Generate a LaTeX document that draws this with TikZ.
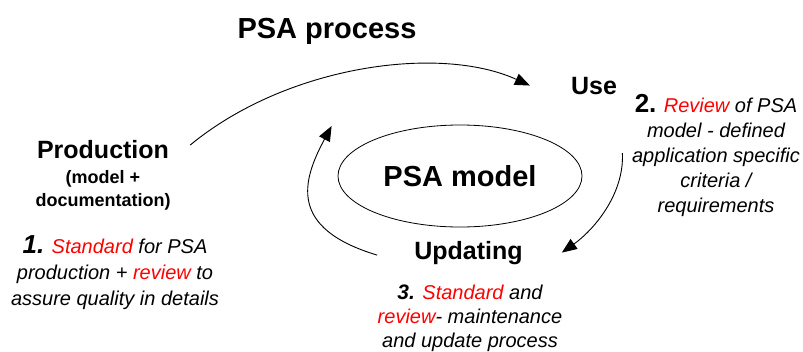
\documentclass[tikz,border=0pt]{standalone}
\usepackage{fontspec}
\setmainfont{Liberation Sans}
\usetikzlibrary{arrows.meta,calc,shapes.geometric}
\definecolor{keyred}{RGB}{255,0,0}
\newcommand{\redword}[1]{\textcolor{keyred}{#1}}
\newcommand{\bignum}[2]{{\fontsize{#1}{#1}\selectfont\bfseries #2}}

\begin{document}
\begin{tikzpicture}[x=1pt,y=-1pt,
  heading/.style={font=\fontsize{29}{34}\selectfont\bfseries, inner sep=0pt},
  stage/.style={font=\fontsize{25}{30}\selectfont\bfseries, inner sep=0pt},
  subnote/.style={font=\fontsize{18}{23}\selectfont\bfseries, align=center, inner sep=0pt},
  note/.style={align=center, inner sep=0pt},
  core/.style={draw, ellipse, line width=0.8pt, minimum width=244pt, minimum height=102pt,
    inner sep=0pt, font=\fontsize{29}{34}\selectfont\bfseries},
  flow/.style={line width=0.9pt, -{Triangle[length=15pt,width=12pt]}},
]
\useasboundingbox (0,0) rectangle (803,351);

% titles and stages (multi-line nodes are placed by the baseline of their last line)
\node[heading, anchor=base] (title) at (327,38) {PSA process};
\node[stage, anchor=base] (use) at (594,94) {Use};
\node[stage, anchor=base] (prod) at (103,158) {Production};
\node[subnote, anchor=base] (prodsub) at (103,206) {(model +\\documentation)};
\node[stage, anchor=base] (upd) at (468.5,259) {Updating};
\node[core] (model) at (460,176) {PSA model};

% explanatory notes
\node[note, anchor=base, font=\fontsize{20}{26}\selectfont\itshape] (n1) at (115,305)
  {\bignum{26}{1.} \redword{Standard} for PSA\\
   production + \redword{review} to\\
   assure quality in details};
\node[note, anchor=base, font=\fontsize{20}{24.8}\selectfont\itshape] (n2) at (716,212)
  {{\fontsize{26}{26}\selectfont\bfseries\upshape 2.} \redword{Review} of PSA\\
   model - defined\\
   application specific\\
   criteria /\\
   requirements};
\node[note, anchor=base, font=\fontsize{20}{23.8}\selectfont\itshape] (n3) at (470,347)
  {\bignum{21}{3.} \redword{Standard} and\\
   \redword{review}- maintenance\\
   and update process};

% cycle arrows
\coordinate (a1s) at ($(prod.east)+(21,-4)$);
\coordinate (a1e) at ($(use.west)+(-41,0)$);
\coordinate (a2s) at ($(model.east)+(40,-23)$);
\coordinate (a2e) at ($(upd.east)+(39,0)$);
\coordinate (a3s) at ($(upd.west)+(-37,2.5)$);
\coordinate (a3e) at ($(model.west)+(-6,-50)$);

\draw[flow] (a1s) .. controls +(97,-80) and +(-90,-41) .. (a1e);
\draw[flow] (a2s) .. controls +(2,42) and +(31,-22) .. (a2e);
\draw[flow] (a3s) .. controls +(-90,-27) and +(-29,54) .. (a3e);
\end{tikzpicture}
\end{document}
